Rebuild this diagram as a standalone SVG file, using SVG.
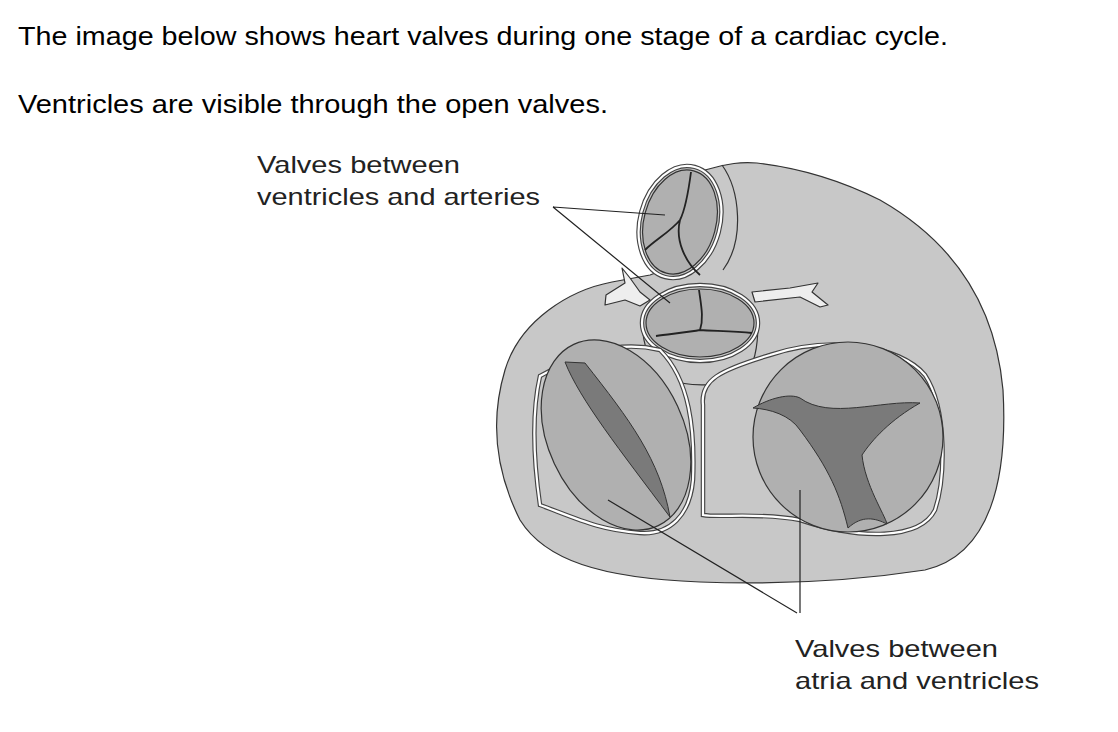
<svg xmlns="http://www.w3.org/2000/svg" width="1118" height="732" viewBox="0 0 1118 732">
<style>
.t{font-family:"Liberation Sans",Arial,sans-serif;fill:#000}
.h{font-size:25px}
.l{font-size:24px;fill:#222}
.o{stroke:#333;stroke-width:1.2;stroke-linejoin:round}
.ring{fill:#c8c8c8;stroke:#444;stroke-width:4.5}
.ringw{fill:none;stroke:#fff;stroke-width:2.2}
.v{fill:#b0b0b0;stroke:#333;stroke-width:1.2}
.d{fill:#7a7a7a;stroke:#333;stroke-width:1}
.c{fill:none;stroke:#222;stroke-width:1.8}
.ld{fill:none;stroke:#222;stroke-width:1.2}
</style>
<rect width="1118" height="732" fill="#fff"/>
<text class="t h" x="18" y="45" textLength="930" lengthAdjust="spacingAndGlyphs">The image below shows heart valves during one stage of a cardiac cycle.</text>
<text class="t h" x="18" y="113" textLength="590" lengthAdjust="spacingAndGlyphs">Ventricles are visible through the open valves.</text>
<g id="heart">
<path class="o" fill="#c8c8c8" d="M612,282 C570,290 520,320 505,370 C490,420 495,470 520,520 C545,560 600,578 700,582 C780,585 860,580 925,570 C990,555 1008,480 1003,390 C995,300 950,240 880,200 C840,180 800,168 757,163 C740,162 730,163 705,170 L690,260 L650,275 Z"/>
<path class="o" fill="none" d="M722,165 C740,190 745,240 723,270"/>
<path class="o" fill="#eee" d="M606,295 L625,283 L622,268 L630,278 L640,292 L650,300 L640,306 L625,300 L605,305 Z"/>
<path class="o" fill="#eee" d="M752,292 L790,288 L818,283 L812,292 L828,305 L820,307 L800,297 L755,302 Z"/>
</g>
<g id="pulmonary-valve">
<ellipse class="ring" cx="680" cy="222" rx="40" ry="57" transform="rotate(15 680 222)"/>
<ellipse class="ringw" cx="680" cy="222" rx="40" ry="57" transform="rotate(15 680 222)"/>
<ellipse class="v" cx="680" cy="222" rx="36" ry="53" transform="rotate(15 680 222)"/>
<path class="c" d="M691,172 C688,195 685,210 680,220 C670,232 655,240 645,250 M680,220 C675,240 685,262 700,275"/>
</g>
<g id="aortic-valve">
<path class="o" fill="#c8c8c8" d="M642,323 C643,345 650,368 665,378 C690,388 720,387 745,376 C755,365 758,345 758,323 Z"/>
<ellipse class="ring" cx="700" cy="323" rx="58" ry="38"/>
<ellipse class="ringw" cx="700" cy="323" rx="58" ry="38"/>
<ellipse class="v" cx="700" cy="323" rx="54" ry="34"/>
<path class="c" d="M699,290 C701,305 704,318 700,330 C690,332 670,334 656,336 M700,330 C715,331 735,331 752,333"/>
</g>
<g id="mitral-valve">
<path class="ring" d="M540,376 C570,360 610,338 660,350 C690,380 695,430 693,480 C690,515 670,535 640,533 C600,530 580,520 540,505 C535,470 530,420 540,376 Z"/>
<path class="ringw" d="M540,376 C570,360 610,338 660,350 C690,380 695,430 693,480 C690,515 670,535 640,533 C600,530 580,520 540,505 C535,470 530,420 540,376 Z"/>
<ellipse class="v" cx="616" cy="435" rx="68" ry="100" transform="rotate(-25 616 435)"/>
<path class="d" d="M565,362 C580,400 620,450 670,517 C660,460 630,420 585,363 Z"/>
</g>
<g id="tricuspid-valve">
<path class="ring" d="M703,405 C700,380 720,370 770,355 C830,335 900,345 925,375 C948,410 945,480 935,510 C920,540 860,540 800,520 C760,512 720,518 703,515 Z"/>
<path class="ringw" d="M703,405 C700,380 720,370 770,355 C830,335 900,345 925,375 C948,410 945,480 935,510 C920,540 860,540 800,520 C760,512 720,518 703,515 Z"/>
<circle class="v" cx="848" cy="437" r="95"/>
<path class="d" d="M753,408 C770,398 790,393 800,398 C830,420 880,400 920,403 C890,420 872,440 862,455 C865,485 885,515 887,524 C875,518 862,515 848,528 C840,495 830,470 800,430 C790,415 770,409 753,408 Z"/>
</g>
<g id="leaders">
<path class="ld" d="M553,207 L665,215 M553,207 L670,303"/>
<path class="ld" d="M797,613 L608,500 M800,613 L800,490"/>
</g>
<g id="labels">
<text class="t l" x="257" y="173" textLength="203" lengthAdjust="spacingAndGlyphs">Valves between</text>
<text class="t l" x="257" y="205" textLength="283" lengthAdjust="spacingAndGlyphs">ventricles and arteries</text>
<text class="t l" x="795" y="657" textLength="203" lengthAdjust="spacingAndGlyphs">Valves between</text>
<text class="t l" x="795" y="689" textLength="244" lengthAdjust="spacingAndGlyphs">atria and ventricles</text>
</g>
</svg>
